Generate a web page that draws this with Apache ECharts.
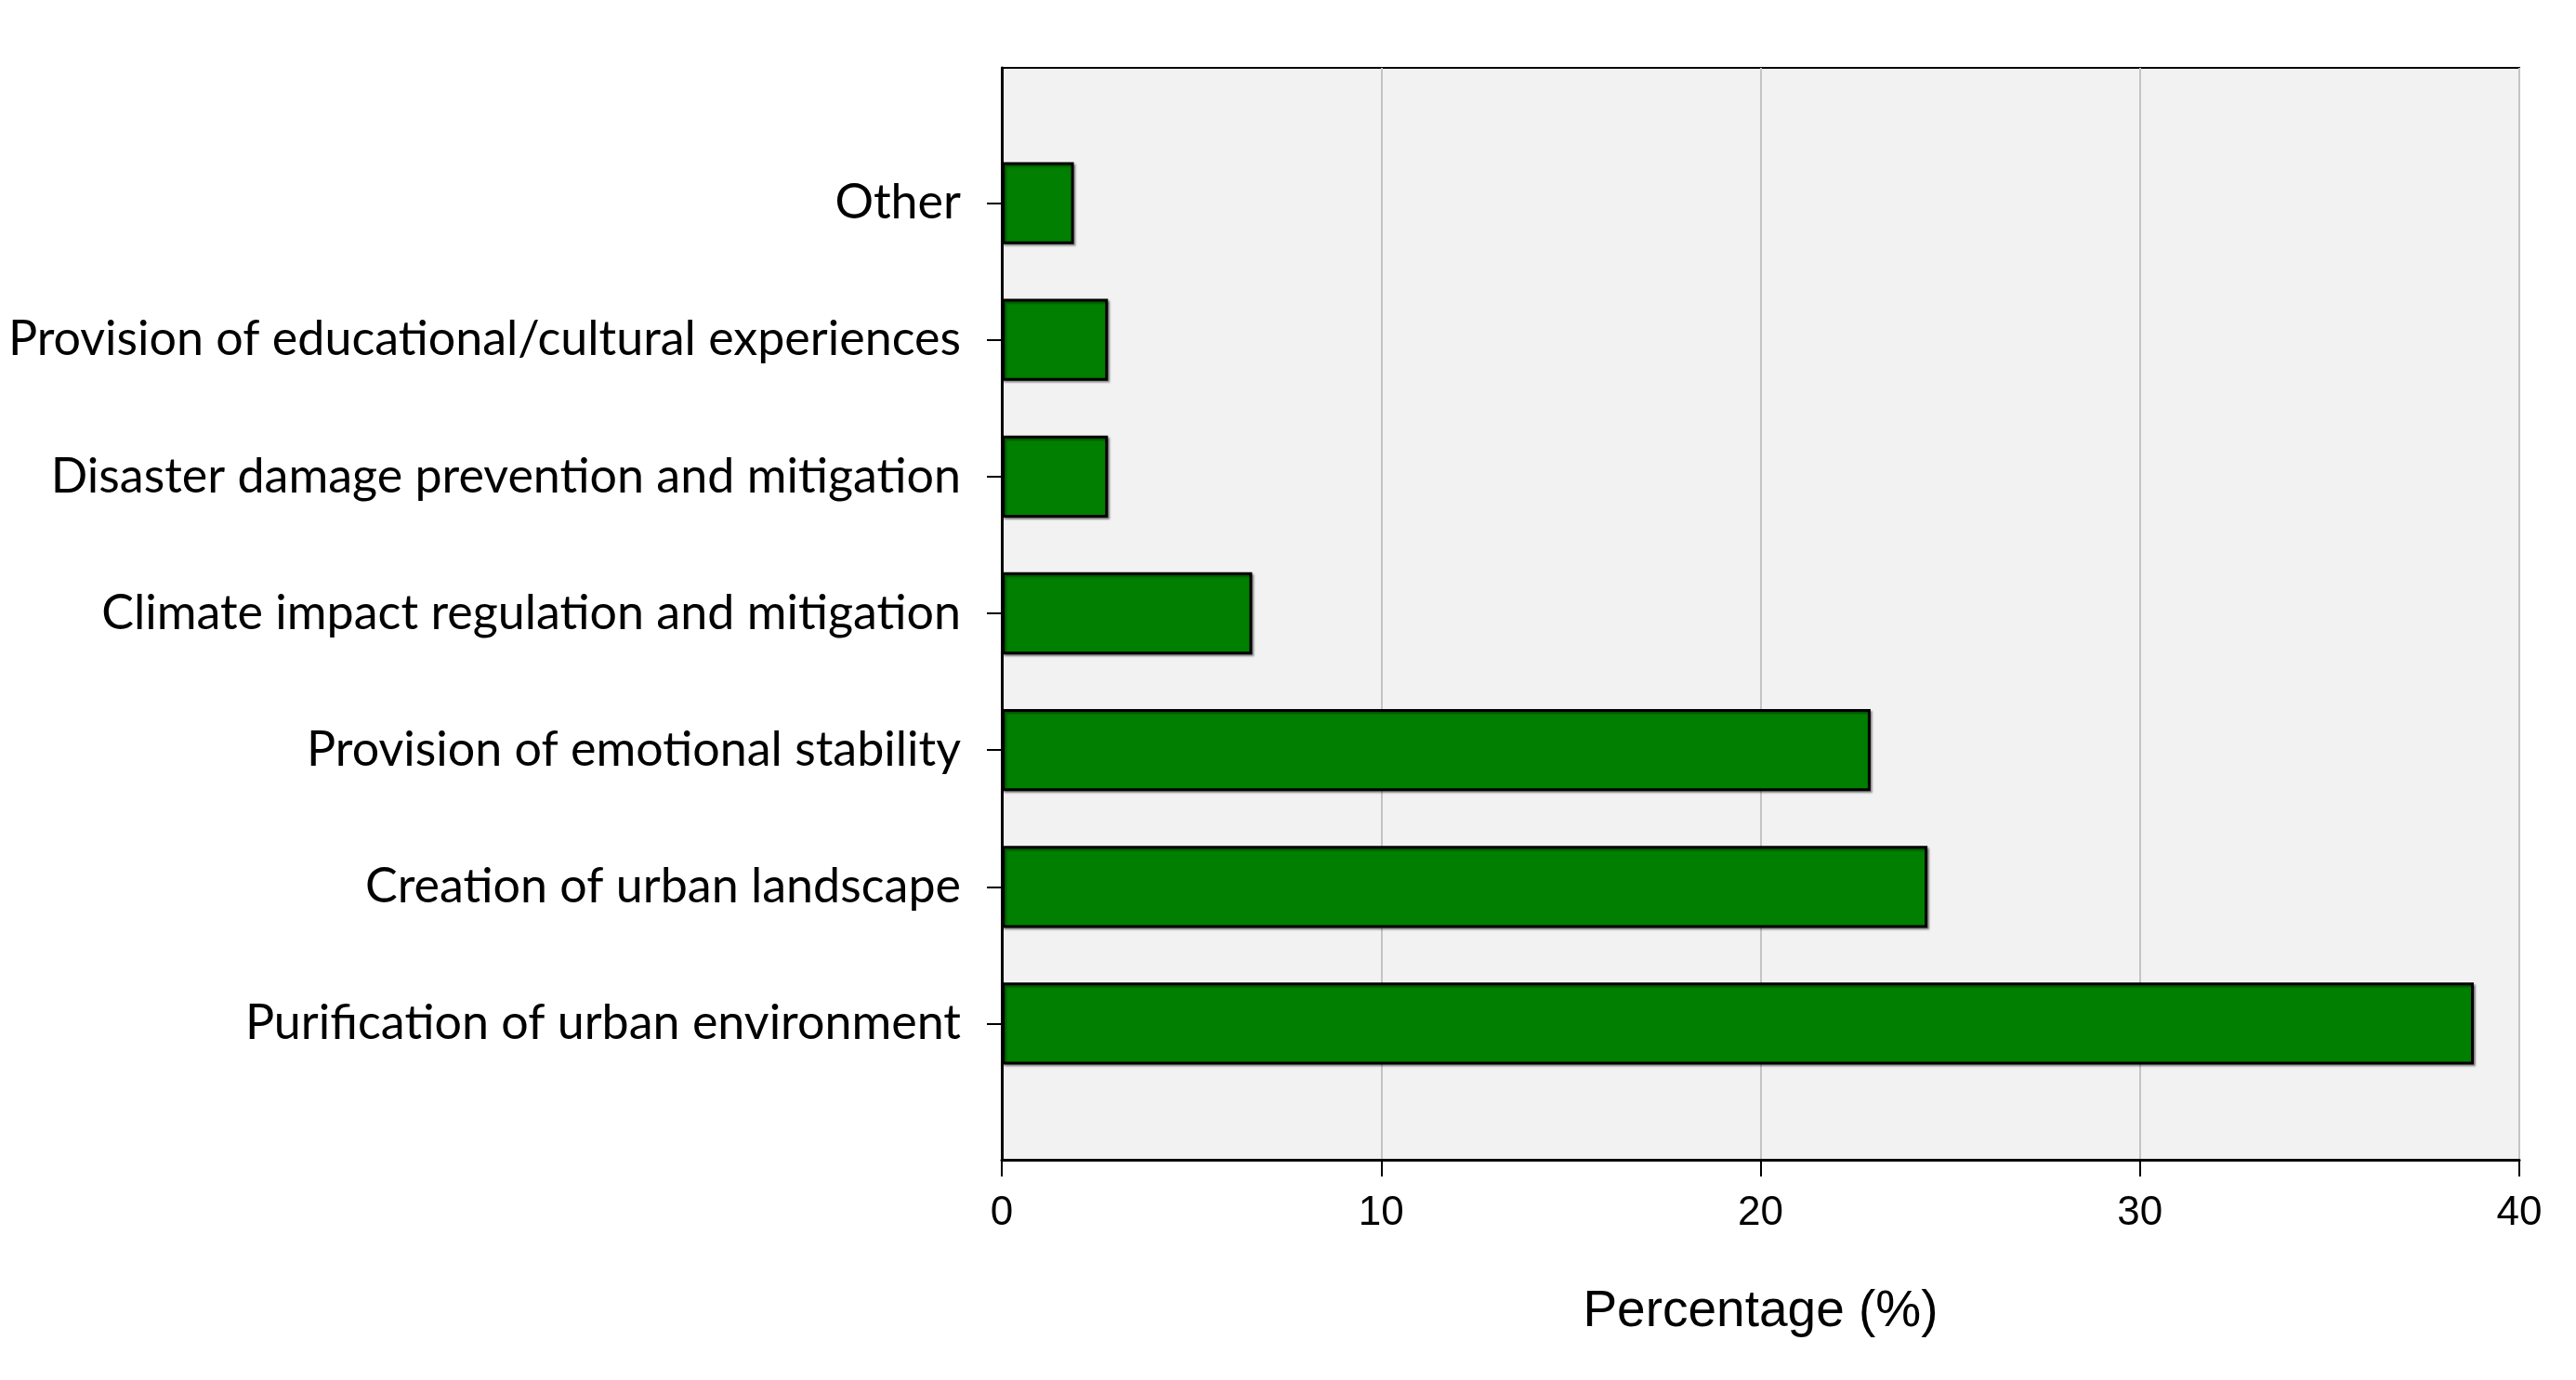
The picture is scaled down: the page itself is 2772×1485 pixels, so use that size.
<!DOCTYPE html>
<html>
<head>
<meta charset="utf-8">
<script src="https://cdn.jsdelivr.net/npm/echarts@6/dist/echarts.min.js"></script>
<style>
html,body{margin:0;padding:0;background:#fff;}
#main{width:2772px;height:1485px;}
</style>
</head>
<body>
<div id="main"></div>
<script>
// Data (bottom to top)
const categories = [
  'Purification of urban environment',
  'Creation of urban landscape',
  'Provision of emotional stability',
  'Climate impact regulation and mitigation',
  'Disaster damage prevention and mitigation',
  'Provision of educational/cultural experiences',
  'Other'
];
const percentages = [38.8, 24.4, 22.9, 6.6, 2.8, 2.8, 1.9];
const xTicks = [0, 10, 20, 30, 40];

const chart = echarts.init(document.getElementById('main'));
const option = {
  animation: false,
  backgroundColor: '#ffffff',
  grid: [
    {left: 1078, right: 61, top: 73, bottom: 237, show: true,
     backgroundColor: '#f2f2f2', borderColor: '#000', borderWidth: 2},
    {left: 1078, right: 61, top: 145, bottom: 310}
  ],
  xAxis: [
    {gridIndex: 0, type: 'value', min: xTicks[0], max: xTicks[xTicks.length-1], interval: 10,
     axisLine: {show: true, lineStyle: {color: '#000', width: 3}},
     axisTick: {show: true, length: 18, lineStyle: {color: '#000', width: 2}},
     axisLabel: {margin: 36, fontSize: 44, color: '#000', fontFamily: 'Liberation Sans'},
     splitLine: {show: true, lineStyle: {color: '#c4c4c4', width: 2}},
     name: 'Percentage (%)', nameLocation: 'middle', nameGap: 136,
     nameTextStyle: {fontSize: 55, color: '#000', fontFamily: 'Liberation Sans'}},
    {gridIndex: 1, type: 'value', min: xTicks[0], max: xTicks[xTicks.length-1], show: false}
  ],
  yAxis: [
    {gridIndex: 0, type: 'value', min: 0, max: 1, show: true,
     axisLine: {show: true, lineStyle: {color: '#000', width: 3}},
     axisTick: {show: false}, axisLabel: {show: false}, splitLine: {show: false}},
    {gridIndex: 1, type: 'category', data: categories,
     axisLine: {show: false},
     axisTick: {show: true, alignWithLabel: true, length: 16, lineStyle: {color: '#000', width: 2}},
     axisLabel: {margin: 44, fontSize: 52, color: '#000', fontFamily: 'Lato',
                 padding: [8, 0, 0, 0]},
     splitLine: {show: false}}
  ],
  series: [{
    type: 'bar', xAxisIndex: 1, yAxisIndex: 1,
    data: percentages, barWidth: '60%',
    itemStyle: {color: '#007f00', borderColor: '#000', borderWidth: 3,
      shadowColor: 'rgba(0,0,0,0.35)', shadowOffsetX: 2, shadowOffsetY: 2, shadowBlur: 2}
  }]
};
chart.setOption(option);
</script>
</body>
</html>
